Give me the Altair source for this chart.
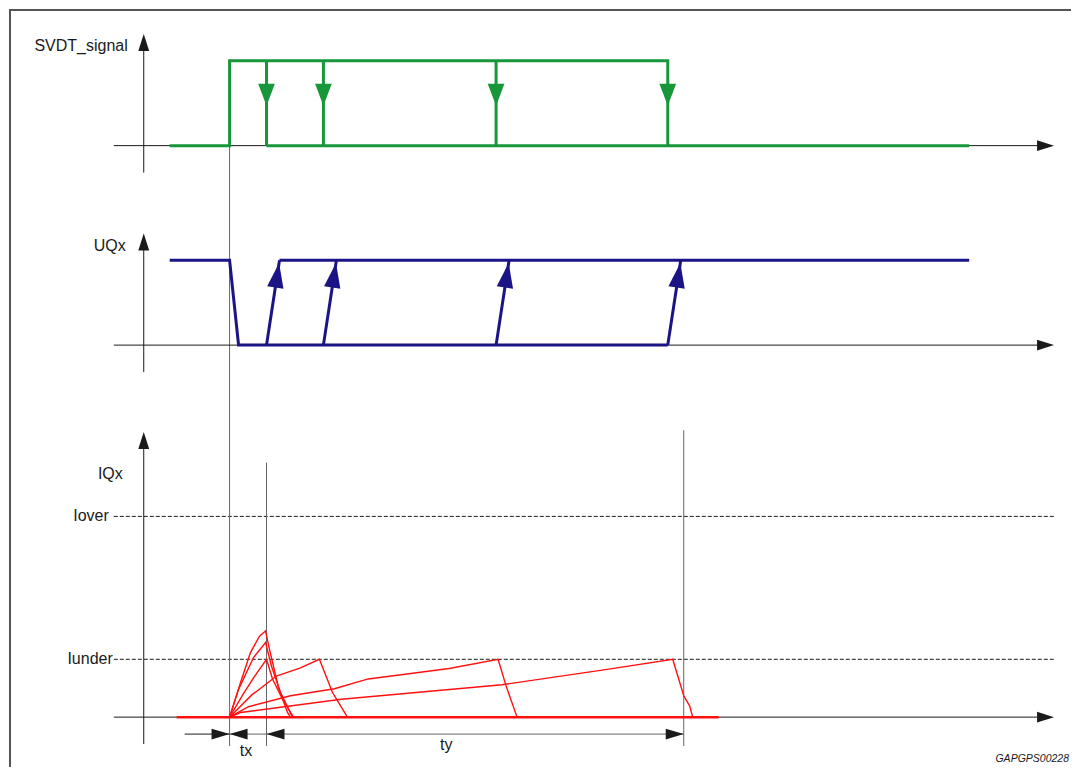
import math
import altair as alt
import pandas as pd

# ---------------- data (diagram units) ----------------
# time axis: t = 0 at the SVDT switch-on instant
T_SIG_START = -60          # signals drawn from
T_SIG_END = 741            # signals drawn to
OFF_TIMES = [37, 94, 267, 439]   # SVDT switch-off instants
UQ_FALL_DUR = 9            # UQx fall duration after switch-on
UQ_RISE_DUR = 13           # UQx rise duration after switch-off
T_X = 37                   # end of tx
T_Y_END = 455              # end of ty

# current thresholds, in units of Iunder
IUNDER = 1.0
IOVER = 3.47

# IQx current traces (time, current in Iunder units)
IQ_A_T = [0, 11, 21, 30, 36, 40, 49, 58, 61]
IQ_A_I = [0, 0.60, 1.12, 1.40, 1.49, 1.17, 0.51, 0.08, 0]
IQ_B_T = [0, 9, 24, 36, 42, 51, 63]
IQ_B_I = [0, 0.48, 1.03, 1.29, 0.88, 0.43, 0]
IQ_C_T = [0, 13, 24, 37, 43, 53, 64]
IQ_C_I = [0, 0.38, 0.68, 1.0, 0.66, 0.31, 0]
IQ_D_T = [0, 22, 47, 71, 90, 103, 118]
IQ_D_I = [0, 0.38, 0.71, 0.85, 1.0, 0.43, 0]
IQ_E_T = [0, 19, 61, 105, 139, 220, 269, 277, 288]
IQ_E_I = [0, 0.18, 0.37, 0.49, 0.66, 0.84, 1.0, 0.54, 0]
IQ_F_T = [0, 11, 112, 273, 380, 444, 455, 461, 464]
IQ_F_I = [0, 0.08, 0.31, 0.56, 0.83, 1.0, 0.37, 0.19, 0]
IQ_BASE_T = [-53, 490]

AXIS_LABELS = ["SVDT_signal", "UQx", "IQx"]
LEVEL_LABELS = ["Iover", "Iunder"]
DIM_LABELS = ["tx", "ty"]
FIG_CODE = "GAPGPS00228"

# ---------------- layout (diagram space) ----------------
W, H = 1064, 760
X_MIN = -221
X_MAX = X_MIN + W
Y_MAX = 773
Y_MIN = Y_MAX - H

SVDT_BASE, SVDT_AMP = 636, 85
UQX_BASE, UQX_AMP = 436, 85
IQX_BASE, IQX_UNIT = 63, 58

AXIS_T = -86
HAX_T0, HAX_T1 = -116, 826
VAX = [(609, 748), (409, 548), (36, 349)]
DIM_V = 46
DIM_T0 = -45
REF_BOTTOM = 34

GREEN = "#17963a"
NAVY = "#1b1486"
RED = "#ff1010"
INK = "#1a1a1a"
GREY = "#666666"
FONT = "Liberation Sans"

xs = alt.Scale(domain=[X_MIN, X_MAX], nice=False, zero=False)
ys = alt.Scale(domain=[Y_MIN, Y_MAX], nice=False, zero=False)


def sv(level):
    return SVDT_BASE + level * SVDT_AMP


def uv(level):
    return UQX_BASE + level * UQX_AMP


def iv(level):
    return IQX_BASE + level * IQX_UNIT


def segs(rows):
    return pd.DataFrame(rows, columns=["t", "v", "t2", "v2"])


def rules(rows, **kw):
    return alt.Chart(segs(rows)).mark_rule(**kw).encode(
        x=alt.X("t:Q", scale=xs, axis=None),
        y=alt.Y("v:Q", scale=ys, axis=None),
        x2="t2:Q",
        y2="v2:Q",
    )


def poly(paths, **kw):
    rows = []
    for g, p in enumerate(paths):
        for i, (t, v) in enumerate(p):
            rows.append({"g": g, "i": i, "t": t, "v": v})
    return alt.Chart(pd.DataFrame(rows)).mark_line(**kw).encode(
        x=alt.X("t:Q", scale=xs, axis=None),
        y=alt.Y("v:Q", scale=ys, axis=None),
        detail="g:N",
        order="i:Q",
    )


def arrow_path(ratio):
    # tip at origin, pointing up, length 2 units, half-width = ratio * 2
    w = ratio * 2
    return f"M0,0L{-w},2L{w},2Z"


def heads(rows, color, length, ratio=0.36):
    df = pd.DataFrame(rows, columns=["t", "v", "a"])
    return alt.Chart(df).mark_point(
        shape=arrow_path(ratio), filled=True, opacity=1, strokeWidth=0, color=color,
        size=length * length,
    ).encode(
        x=alt.X("t:Q", scale=xs, axis=None),
        y=alt.Y("v:Q", scale=ys, axis=None),
        angle=alt.Angle("a:Q", scale=None),
    )


def texts(rows, **kw):
    df = pd.DataFrame(rows, columns=["t", "v", "label"])
    return alt.Chart(df).mark_text(font=FONT, color=INK, baseline="middle", **kw).encode(
        x=alt.X("t:Q", scale=xs, axis=None),
        y=alt.Y("v:Q", scale=ys, axis=None),
        text="label:N",
    )


# frame (top and left edges of the figure box)
frame = rules(
    [(X_MIN, Y_MAX - 1, X_MAX, Y_MAX - 1), (X_MIN + 1, Y_MIN, X_MIN + 1, Y_MAX)],
    color="#555", strokeWidth=2,
)

# axes
bases = [SVDT_BASE, UQX_BASE, IQX_BASE]
axes = rules(
    [(HAX_T0, b, HAX_T1 - 4, b) for b in bases] + [(AXIS_T, lo, AXIS_T, hi - 4) for lo, hi in VAX],
    color=INK, strokeWidth=1,
)
axis_heads = heads(
    [(HAX_T1, b, 90) for b in bases] + [(AXIS_T, hi, 0) for lo, hi in VAX], INK, 17, 0.32
)

# threshold lines
thresholds = rules(
    [(HAX_T0, iv(IOVER), HAX_T1, iv(IOVER)), (HAX_T0, iv(IUNDER), HAX_T1, iv(IUNDER))],
    color=INK, strokeWidth=1, strokeDash=[4, 2],
)

# reference verticals and dimension line
refs = rules(
    [
        (0, SVDT_BASE, 0, REF_BOTTOM),
        (T_X, iv(4.4), T_X, REF_BOTTOM),
        (T_Y_END, iv(4.96), T_Y_END, REF_BOTTOM),
        (0, DIM_V, T_Y_END, DIM_V),
    ],
    color=GREY, strokeWidth=1,
)
dim_left = rules([(DIM_T0, DIM_V, 0, DIM_V)], color=INK, strokeWidth=1)
dim_heads = heads(
    [(0, DIM_V, 90), (0, DIM_V, 270), (T_X, DIM_V, 270), (T_Y_END, DIM_V, 90)], INK, 18, 0.3
)

# SVDT_signal (green)
last_off = OFF_TIMES[-1]
green_paths = [
    [(T_SIG_START, sv(0)), (0, sv(0)), (0, sv(1)), (last_off, sv(1)), (last_off, sv(0))],
    [(OFF_TIMES[0], sv(0)), (T_SIG_END, sv(0))],
] + [[(t, sv(1)), (t, sv(0))] for t in OFF_TIMES[:-1]]
green = poly(green_paths, color=GREEN, strokeWidth=3)
green_heads = heads([(t, sv(0.47), 180) for t in OFF_TIMES], GREEN, 22, 0.38)

# UQx (navy)
navy_paths = [
    [(T_SIG_START, uv(1)), (0, uv(1)), (UQ_FALL_DUR, uv(0)), (last_off, uv(0))],
    [(OFF_TIMES[0] + UQ_RISE_DUR, uv(1)), (T_SIG_END, uv(1))],
] + [[(t, uv(0)), (t + UQ_RISE_DUR, uv(1))] for t in OFF_TIMES]
navy = poly(navy_paths, color=NAVY, strokeWidth=3)
rise_angle = math.degrees(math.atan2(UQ_RISE_DUR, UQX_AMP))
navy_heads = heads(
    [(t + UQ_RISE_DUR * 0.97, uv(0.97), rise_angle) for t in OFF_TIMES], NAVY, 25, 0.33
)

# IQx (red)
curves = [
    (IQ_A_T, IQ_A_I), (IQ_B_T, IQ_B_I), (IQ_C_T, IQ_C_I),
    (IQ_D_T, IQ_D_I), (IQ_E_T, IQ_E_I), (IQ_F_T, IQ_F_I),
]
red = poly([[(t, iv(i)) for t, i in zip(ts, cs)] for ts, cs in curves], color=RED, strokeWidth=1.4)
red_base = poly([[(t, iv(0)) for t in IQ_BASE_T]], color=RED, strokeWidth=2.5)

# labels
axis_label_v = [sv(1) + 15, uv(1) + 14, iv(4.2)]
axis_label_dt = [16, 18, 21]
axis_texts = texts(
    [(AXIS_T - d, v, s) for s, v, d in zip(AXIS_LABELS, axis_label_v, axis_label_dt)],
    align="right", fontSize=16,
)
level_texts = texts(
    [(HAX_T0 - 5, iv(IOVER), LEVEL_LABELS[0]), (HAX_T0 - 1, iv(IUNDER), LEVEL_LABELS[1])],
    align="right", fontSize=16,
)
dim_texts = texts(
    [(T_X / 2 - 2, DIM_V - 17, DIM_LABELS[0]), ((T_X + T_Y_END) / 2 - 29, DIM_V - 11, DIM_LABELS[1])],
    align="center", fontSize=16,
)
code_text = texts([(X_MAX - 2, 21, FIG_CODE)], align="right", fontSize=10.5, fontStyle="italic")

chart = alt.layer(
    frame,
    thresholds, refs, axes, dim_left,
    red_base, red,
    green, navy,
    axis_heads, dim_heads, green_heads, navy_heads,
    axis_texts, level_texts, dim_texts, code_text,
).properties(
    width=W, height=H, padding=0,
    autosize=alt.AutoSizeParams(type="fit", contains="padding"),
).configure(background="white").configure_view(stroke=None)

chart.save("out.html", embed_options={"renderer": "svg", "actions": False})
